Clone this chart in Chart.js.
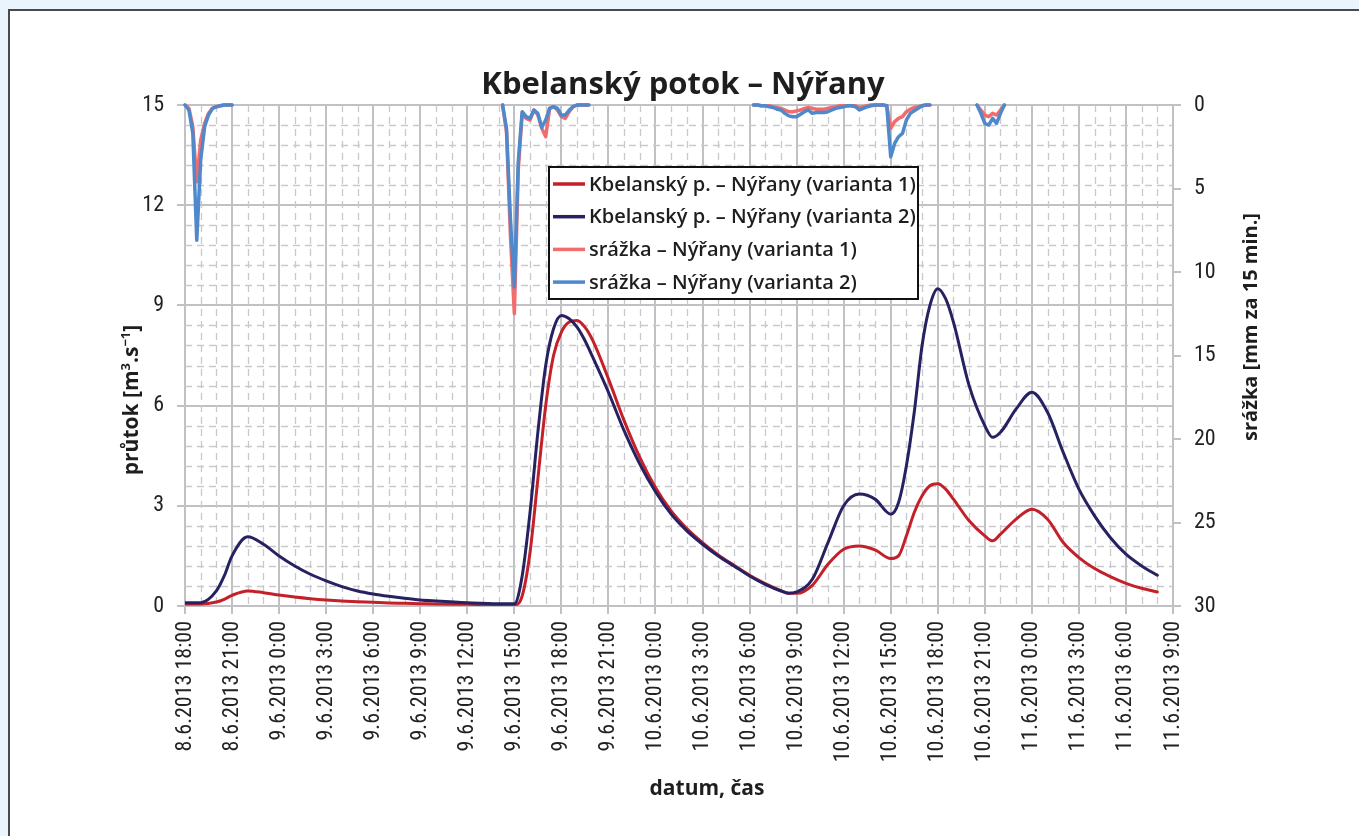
<!DOCTYPE html>
<html>
<head>
<meta charset="utf-8">
<title>Kbelanský potok – Nýřany</title>
<script src="https://cdn.jsdelivr.net/npm/chart.js@4.4.1/dist/chart.umd.min.js"></script>
<style>
  html, body { margin: 0; padding: 0; background: #e9f4fc; overflow: hidden; }
  #frame { position: absolute; left: 8px; top: 9px; width: 1400px; height: 900px;
           background: #fff; border: 2px solid #4a4a4a; box-sizing: border-box; }
  #chart { position: absolute; left: 0; top: 0; }
</style>
</head>
<body>
<div id="frame"></div>
<canvas id="chart" width="1359" height="836"></canvas>
<script>
// time axis: hours since 8.6.2013 18:00
const START_DAY = 8;
const START_HOUR = 18;

// průtok [m3/s] – both variants share the same time nodes
const flowHours = [0, 1, 2, 2.5, 3, 4, 5, 6, 7, 8, 9, 10, 11, 12, 13, 14, 15, 16, 18, 20,
    21, 21.5, 22, 22.5, 23, 23.5, 24, 24.5, 25, 25.5, 26, 27, 28, 29, 30, 31, 32, 33, 34, 35,
    36, 37, 38, 38.5, 39, 40, 41, 42, 43, 44, 45, 45.5, 46, 46.5, 47, 47.5, 48, 48.5, 49, 50,
    51, 51.5, 52, 53, 54, 55, 56, 57, 58, 59, 60, 61, 62];
const flowV1 = [0.06, 0.06, 0.12, 0.2, 0.32, 0.45, 0.4, 0.33, 0.27, 0.22, 0.18, 0.15, 0.13, 0.11, 0.09, 0.08, 0.07, 0.06, 0.05, 0.04,
    0.04, 0.3, 1.6, 3.8, 6.0, 7.5, 8.2, 8.5, 8.55, 8.35, 7.95, 6.8, 5.55, 4.45, 3.55, 2.85, 2.32, 1.9, 1.53, 1.22,
    0.92, 0.67, 0.46, 0.38, 0.38, 0.62, 1.25, 1.7, 1.8, 1.68, 1.42, 1.5, 2.1, 2.8, 3.3, 3.6, 3.66, 3.5, 3.2, 2.55,
    2.1, 1.95, 2.15, 2.6, 2.9, 2.6, 1.9, 1.45, 1.12, 0.88, 0.68, 0.53, 0.42];
const flowV2 = [0.1, 0.1, 0.45, 0.9, 1.5, 2.07, 1.85, 1.5, 1.2, 0.95, 0.75, 0.58, 0.45, 0.36, 0.29, 0.23, 0.18, 0.15, 0.1, 0.07,
    0.07, 0.9, 2.8, 5.2, 7.2, 8.3, 8.7, 8.6, 8.35, 7.95, 7.45, 6.4, 5.25, 4.25, 3.42, 2.75, 2.25, 1.85, 1.5, 1.2,
    0.9, 0.65, 0.45, 0.38, 0.42, 0.8, 1.9, 3.0, 3.35, 3.2, 2.75, 3.1, 4.2, 5.8, 7.8, 9.0, 9.5, 9.2, 8.5, 6.6,
    5.4, 5.05, 5.2, 5.9, 6.4, 5.8, 4.6, 3.5, 2.7, 2.05, 1.55, 1.2, 0.92];

// srážka [mm za 15 min.] – four rain events, one value per 15 minutes
const rainStep = 0.25;
const rainStarts = [0, 20.25, 36.25, 50.5];
const rainV1 = [
    [0, 0.2, 1.3, 4.6, 2.1, 1.1, 0.5, 0.2, 0.1, 0.05, 0, 0, 0],
    [0, 1.6, 7.8, 12.5, 3.9, 0.5, 0.8, 0.9, 0.3, 0.6, 1.4, 1.9, 0.2, 0.1, 0.3, 0.7, 0.8, 0.4, 0.1, 0, 0, 0, 0],
    [0, 0, 0.05, 0.05, 0.05, 0.1, 0.15, 0.2, 0.3, 0.4, 0.4, 0.35, 0.3, 0.2, 0.15, 0.2, 0.25, 0.25, 0.25, 0.2, 0.15, 0.1, 0.05,
     0.05, 0.05, 0.05, 0.05, 0.15, 0.1, 0.05, 0, 0, 0, 0, 0.05, 1.4, 1.0, 0.8, 0.7, 0.4, 0.25, 0.15, 0.1, 0.05, 0, 0],
    [0, 0.3, 0.6, 0.7, 0.5, 0.6, 0.3, 0]
];
const rainV2 = [
    [0, 0.3, 1.7, 8.1, 3.3, 1.3, 0.6, 0.2, 0.1, 0.05, 0, 0, 0],
    [0, 1.4, 6.8, 10.9, 3.4, 0.4, 0.7, 0.8, 0.3, 0.5, 1.35, 0.9, 0.2, 0.1, 0.2, 0.6, 0.6, 0.3, 0.1, 0, 0, 0, 0],
    [0, 0, 0.05, 0.05, 0.1, 0.15, 0.25, 0.3, 0.5, 0.65, 0.7, 0.7, 0.55, 0.4, 0.3, 0.5, 0.45, 0.45, 0.45, 0.4, 0.3, 0.2, 0.15,
     0.1, 0.05, 0.05, 0.1, 0.3, 0.2, 0.1, 0.05, 0, 0, 0, 0.05, 3.1, 2.3, 1.9, 1.7, 0.9, 0.5, 0.35, 0.2, 0.05, 0, 0],
    [0, 0.5, 1.1, 1.2, 0.8, 1.1, 0.5, 0]
];

const seriesLabels = [
    'Kbelanský p. – Nýřany (varianta 1)',
    'Kbelanský p. – Nýřany (varianta 2)',
    'srážka – Nýřany (varianta 1)',
    'srážka – Nýřany (varianta 2)'
];
const seriesColors = ['#c3202a', '#262262', '#f26b6d', '#4f88cb'];

const chartTitle = 'Kbelanský potok – Nýřany';
const xTitle = 'datum, čas';
const y2Title = 'srážka [mm za 15 min.]';
// left title with superscripts: [text, isSuperscript]
const yTitleParts = [['průtok [m', false], ['3', true], ['.s', false], ['−1', true], [']', false]];

const majorGrid = '#c1c1c5';
const minorGrid = '#c9c9cb';
const tickFont = { family: '"Liberation Sans Narrow", "Arial Narrow", "Roboto Condensed", Roboto, sans-serif', size: 22 };
const textFamily = '"Open Sans", "Noto Sans", sans-serif';

function hourLabel(v) {
    const t = START_HOUR + v;
    const day = START_DAY + Math.floor(t / 24);
    return day + '.6.2013 ' + (t % 24) + ':00';
}

function flowPoints(values) {
    return flowHours.map(function (h, i) { return { x: h, y: values[i] }; });
}

function rainPoints(events) {
    var pts = [];
    events.forEach(function (vals, i) {
        if (i > 0) pts.push({ x: rainStarts[i] - 0.1, y: null });
        vals.forEach(function (v, k) {
            pts.push({ x: rainStarts[i] + k * rainStep, y: v });
        });
    });
    return pts;
}

// dashed minor grid: every 0.6 on the flow axis, every hour on the time axis
const minorGridPlugin = {
    id: 'minorGrid',
    beforeDatasetsDraw: function (chart) {
        var ctx = chart.ctx, a = chart.chartArea;
        var xs = chart.scales.x, ys = chart.scales.y;
        ctx.save();
        ctx.strokeStyle = minorGrid;
        ctx.lineWidth = 1.3;
        ctx.setLineDash([7, 5]);
        for (var k = 1; k < 25; k++) {
            if (k % 5 === 0) continue;
            var py = Math.round(ys.getPixelForValue(k * 0.6)) + 0.5;
            ctx.beginPath();
            ctx.moveTo(a.left, py);
            ctx.lineTo(a.right, py);
            ctx.stroke();
        }
        for (var h = 1; h < 63; h++) {
            if (h % 3 === 0) continue;
            var px = Math.round(xs.getPixelForValue(h)) + 0.5;
            ctx.beginPath();
            ctx.moveTo(px, a.top);
            ctx.lineTo(px, a.bottom);
            ctx.stroke();
        }
        ctx.restore();
    }
};

// titles and the boxed legend inside the plot
const textPlugin = {
    id: 'texts',
    afterDraw: function (chart) {
        var ctx = chart.ctx, a = chart.chartArea;
        ctx.save();
        ctx.fillStyle = '#1e1e1e';

        ctx.font = 'bold 31px ' + textFamily;
        ctx.textAlign = 'center';
        ctx.textBaseline = 'alphabetic';
        ctx.fillText(chartTitle, 683, 94);

        ctx.font = 'bold 21px ' + textFamily;
        ctx.fillText(xTitle, 707, 795);

        // right axis title
        ctx.save();
        ctx.translate(1257, 327);
        ctx.rotate(-Math.PI / 2);
        ctx.font = 'bold 20px ' + textFamily;
        ctx.fillText(y2Title, 0, 0);
        ctx.restore();

        // left axis title with superscripts
        ctx.save();
        ctx.translate(138, 400);
        ctx.rotate(-Math.PI / 2);
        ctx.textAlign = 'left';
        var big = 'bold 21px ' + textFamily, small = 'bold 13px ' + textFamily;
        var total = 0;
        yTitleParts.forEach(function (p) {
            ctx.font = p[1] ? small : big;
            total += ctx.measureText(p[0]).width;
        });
        var cx = -total / 2;
        yTitleParts.forEach(function (p) {
            ctx.font = p[1] ? small : big;
            ctx.fillText(p[0], cx, p[1] ? -8 : 0);
            cx += ctx.measureText(p[0]).width;
        });
        ctx.restore();

        // legend
        var lx = a.left + 364, ly = a.top + 62, lw = 369, lh = 132;
        ctx.fillStyle = '#fff';
        ctx.fillRect(lx, ly, lw, lh);
        ctx.strokeStyle = '#111';
        ctx.lineWidth = 2;
        ctx.strokeRect(lx, ly, lw, lh);
        ctx.font = '600 20px ' + textFamily;
        ctx.textAlign = 'left';
        ctx.textBaseline = 'middle';
        seriesLabels.forEach(function (label, i) {
            var ry = ly + 17 + i * 32.7;
            ctx.strokeStyle = seriesColors[i];
            ctx.lineWidth = 3.5;
            ctx.beginPath();
            ctx.moveTo(lx + 4, ry);
            ctx.lineTo(lx + 36, ry);
            ctx.stroke();
            ctx.fillStyle = '#1e1e1e';
            ctx.fillText(label, lx + 40, ry + 1);
        });
        ctx.restore();
    }
};

new Chart(document.getElementById('chart'), {
    type: 'line',
    data: {
        datasets: [{
            label: seriesLabels[0],
            data: flowPoints(flowV1),
            yAxisID: 'y',
            borderColor: seriesColors[0],
            borderWidth: 3,
            cubicInterpolationMode: 'monotone',
            order: 4
        }, {
            label: seriesLabels[1],
            data: flowPoints(flowV2),
            yAxisID: 'y',
            borderColor: seriesColors[1],
            borderWidth: 3,
            cubicInterpolationMode: 'monotone',
            order: 3
        }, {
            label: seriesLabels[2],
            data: rainPoints(rainV1),
            yAxisID: 'y2',
            borderColor: seriesColors[2],
            borderWidth: 3.5,
            tension: 0,
            spanGaps: false,
            clip: false,
            order: 2
        }, {
            label: seriesLabels[3],
            data: rainPoints(rainV2),
            yAxisID: 'y2',
            borderColor: seriesColors[3],
            borderWidth: 3.5,
            tension: 0,
            spanGaps: false,
            clip: false,
            order: 1
        }]
    },
    options: {
        responsive: false,
        animation: false,
        parsing: true,
        elements: { point: { radius: 0, hoverRadius: 0 }, line: { borderJoinStyle: 'round', borderCapStyle: 'round' } },
        layout: { padding: { top: 105, left: 0, right: 0, bottom: 0 } },
        plugins: { legend: { display: false }, tooltip: { enabled: false }, title: { display: false } },
        scales: {
            x: {
                type: 'linear',
                min: 0,
                max: 63,
                ticks: {
                    stepSize: 3,
                    autoSkip: false,
                    minRotation: 90,
                    maxRotation: 90,
                    padding: 7,
                    color: '#222',
                    font: tickFont,
                    callback: function (v) { return hourLabel(v); }
                },
                grid: { color: majorGrid, lineWidth: 2, tickLength: 8, tickColor: majorGrid },
                border: { color: majorGrid, width: 2 },
                afterFit: function (s) { s.height = 230; }
            },
            y: {
                position: 'left',
                min: 0,
                max: 15,
                ticks: { stepSize: 3, padding: 13, color: '#222', font: tickFont },
                grid: { color: majorGrid, lineWidth: 2, tickLength: 8, tickColor: majorGrid },
                border: { color: majorGrid, width: 2 },
                afterFit: function (s) { s.width = 185; }
            },
            y2: {
                position: 'right',
                min: 0,
                max: 30,
                reverse: true,
                ticks: { stepSize: 5, padding: 13, color: '#222', font: tickFont },
                grid: { drawOnChartArea: false, color: majorGrid, lineWidth: 2, tickLength: 8, tickColor: majorGrid },
                border: { color: majorGrid, width: 2 },
                afterFit: function (s) { s.width = 186; }
            }
        }
    },
    plugins: [minorGridPlugin, textPlugin]
});
</script>
</body>
</html>
